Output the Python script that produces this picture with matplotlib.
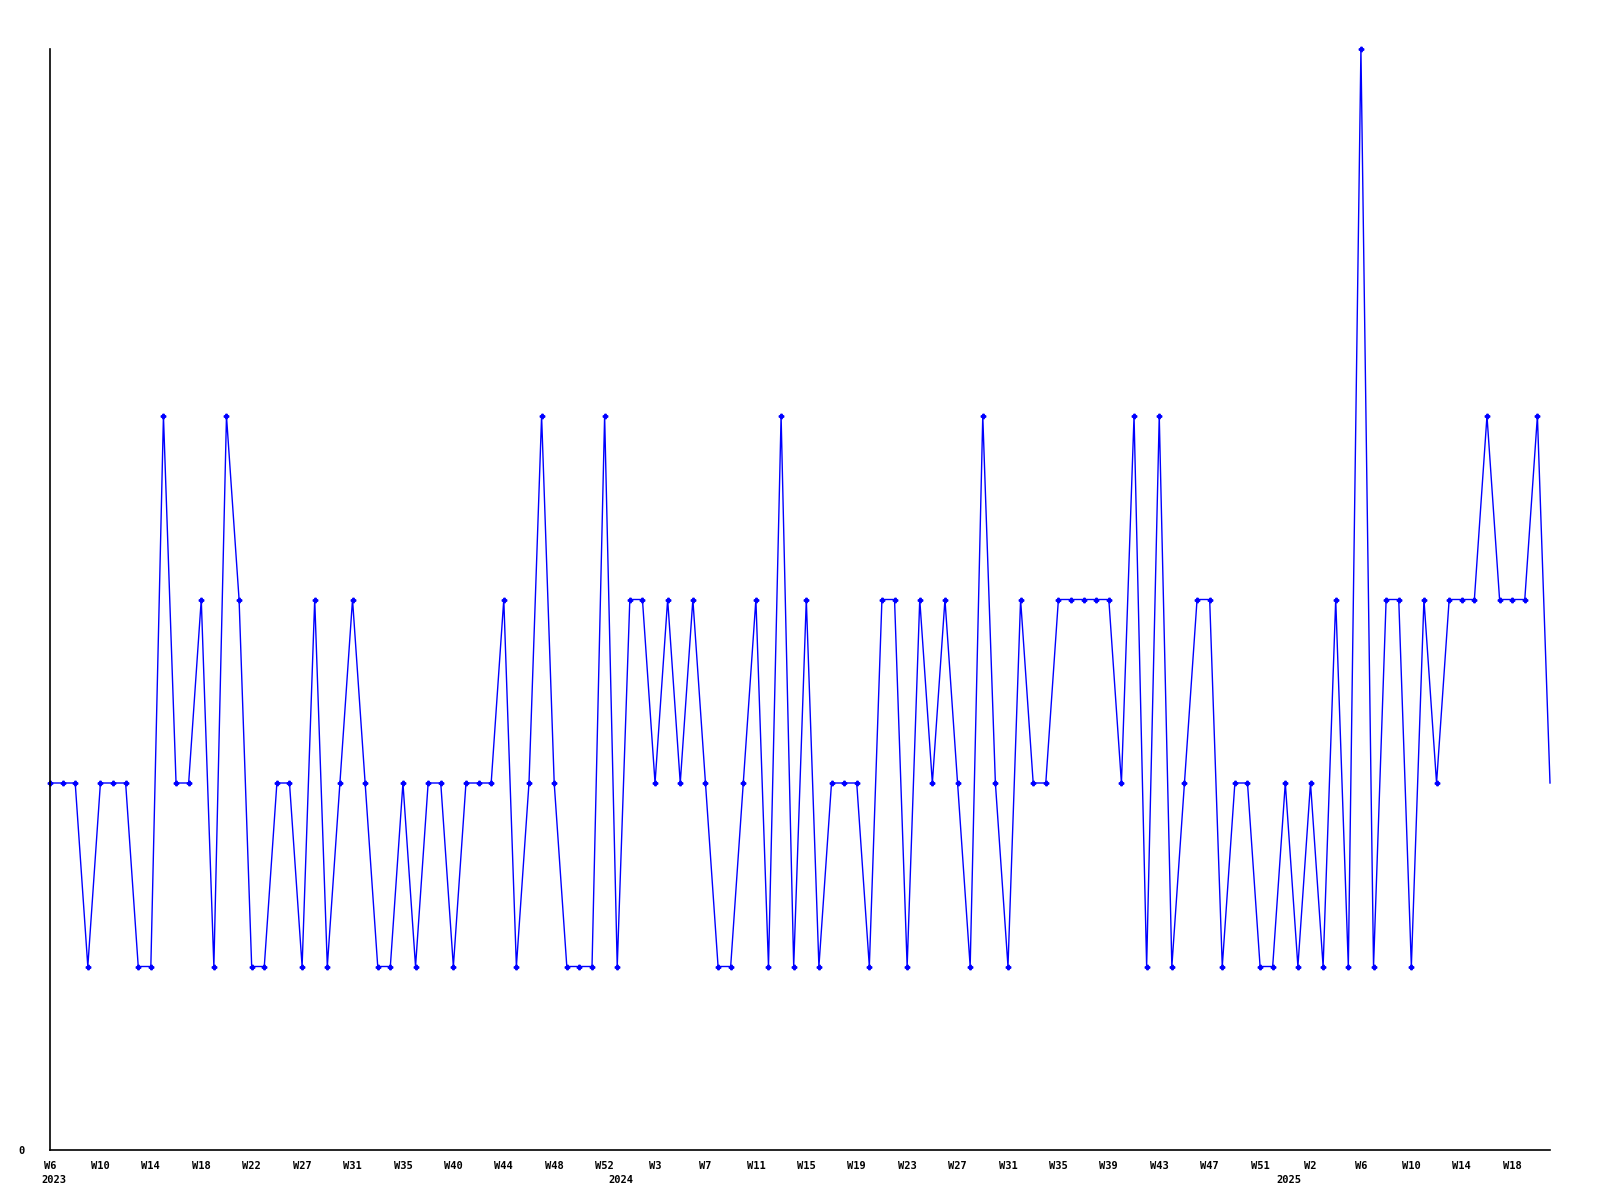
import matplotlib
matplotlib.use("Agg")
import matplotlib.pyplot as plt
import matplotlib.transforms as mtransforms

# weekly counts, 2023 W6 onward (last point is the running week, no marker)
values = [
    2, 2, 2, 1, 2, 2, 2, 1, 1, 4,
    2, 2, 3, 1, 4, 3, 1, 1, 2, 2,
    1, 3, 1, 2, 3, 2, 1, 1, 2, 1,
    2, 2, 1, 2, 2, 2, 3, 1, 2, 4,
    2, 1, 1, 1, 4, 1, 3, 3, 2, 3,
    2, 3, 2, 1, 1, 2, 3, 1, 4, 1,
    3, 1, 2, 2, 2, 1, 3, 3, 1, 3,
    2, 3, 2, 1, 4, 2, 1, 3, 2, 2,
    3, 3, 3, 3, 3, 2, 4, 1, 4, 1,
    2, 3, 3, 1, 2, 2, 1, 1, 2, 1,
    2, 1, 3, 1, 6, 1, 3, 3, 1, 3,
    2, 3, 3, 3, 4, 3, 3, 3, 4, 2,
]
week_labels = ["W6", "W10", "W14", "W18", "W22", "W27", "W31", "W35", "W40",
               "W44", "W48", "W52", "W3", "W7", "W11", "W15", "W19", "W23",
               "W27", "W31", "W35", "W39", "W43", "W47", "W51", "W2", "W6",
               "W10", "W14", "W18"]
years = ["2023", "2024", "2025"]
year_pos = [0.3, 45.3, 98.3]

x = list(range(len(values)))
tick_pos = [4 * i for i in range(len(week_labels))]

fig = plt.figure(figsize=(16, 12), dpi=100)
ax = fig.add_axes([50 / 1600, 50 / 1200, 1500 / 1600, 1101 / 1200])

ax.plot(x, values, color="#0000ff", linewidth=1.0, clip_on=False)
ax.plot(x[:-1], values[:-1], linestyle="none", marker="P", markersize=3.2,
        color="#0000ff", clip_on=False)

ax.set_xlim(0, len(values) - 1)
ax.set_ylim(0, 6)
ax.spines["top"].set_visible(False)
ax.spines["right"].set_visible(False)
for s in ("left", "bottom"):
    ax.spines[s].set_linewidth(1.2)
    ax.spines[s].set_color("black")

font = dict(family="DejaVu Sans Mono", weight="bold", size=7.5)
ax.set_xticks(tick_pos)
ax.set_xticklabels(week_labels, fontdict=font)
ax.set_yticks([0])
ax.set_yticklabels(["0"], fontdict=font)
ax.tick_params(axis="x", length=0, pad=8)
ax.tick_params(axis="y", length=0, pad=18)

trans = mtransforms.blended_transform_factory(ax.transData, ax.transAxes)
for pos, yr in zip(year_pos, years):
    ax.text(pos, -30 / 1101, yr, transform=trans, ha="center", va="center",
            **font)

fig.savefig("out.png", dpi=100)
